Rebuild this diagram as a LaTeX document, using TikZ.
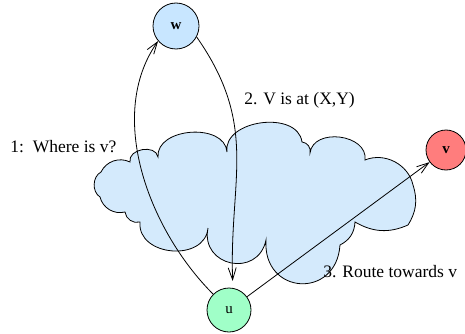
\documentclass[tikz,border=0pt]{standalone}
\usepackage{fontspec}
\setmainfont{Liberation Serif}
\usetikzlibrary{arrows.meta}
\definecolor{cloudblue}{RGB}{212,234,252}
\definecolor{wblue}{RGB}{200,230,255}
\definecolor{ugreen}{RGB}{160,255,200}
\definecolor{vred}{RGB}{255,125,125}
\begin{document}
\begin{tikzpicture}[x=1pt, y=-1pt, line width=0.8pt,
  peer/.style={circle, draw, inner sep=0pt},
  lbl/.style={font=\fontsize{15}{18}\selectfont},
  lblb/.style={font=\fontsize{15}{18}\selectfont\bfseries},
  msg/.style={anchor=base west, inner sep=0pt, font=\fontsize{17.5}{20}\selectfont},
  hop/.style={-{Straight Barb[length=12pt,width=8pt]}}]
\useasboundingbox (0,0) rectangle (465,334);

% the network cloud
\draw[fill=cloudblue]
  (100,197) to[bend left=60] (101,172)
  to[bend left=45] (130,162)
  to[bend left=90, looseness=1.2] (158,157)
  to[bend left=90, looseness=1.1] (227,152)
  to[bend left=90, looseness=1.1] (302,142)
  to[bend left=50] (310,153)
  to[bend left=90, looseness=1.2] (365,160)
  to[bend left=50] (413,185)
  to[bend left=25] (408,225)
  to[bend left=27] (355,222)
  to[bend left=30] (340,245)
  to[bend left=90, looseness=1.9] (266,240)
  to[bend left=90, looseness=1.7] (208,228)
  to[bend left=90, looseness=1.3] (140,222)
  to[bend left=50] (125,212)
  to[bend left=45] (100,197) -- cycle;

% peers
\node[peer, fill=wblue, minimum size=46pt, lblb] (w) at (176,26) {w};
\node[peer, fill=ugreen, minimum size=44pt, lbl] (u) at (229,310) {u};
\node[peer, fill=vred, minimum size=40pt, lblb] (v) at (446,150) {v};

% messages
\draw[hop] (u.135) to[out=135, in=-125, looseness=0.9] (w.220);
\draw[hop, shorten >=7pt] (w.-28) to[out=-55, in=92, looseness=1.1] (u.80);
\draw[hop] (u) -- (v);

% message labels
\node[msg] (q) at (10,152) {1:\ \ Where is v?};
\node[msg] (a) at (244,105) {2. V is at (X,Y)};
\node[msg] (r) at (323,277) {3. Route towards v};
\end{tikzpicture}
\end{document}
